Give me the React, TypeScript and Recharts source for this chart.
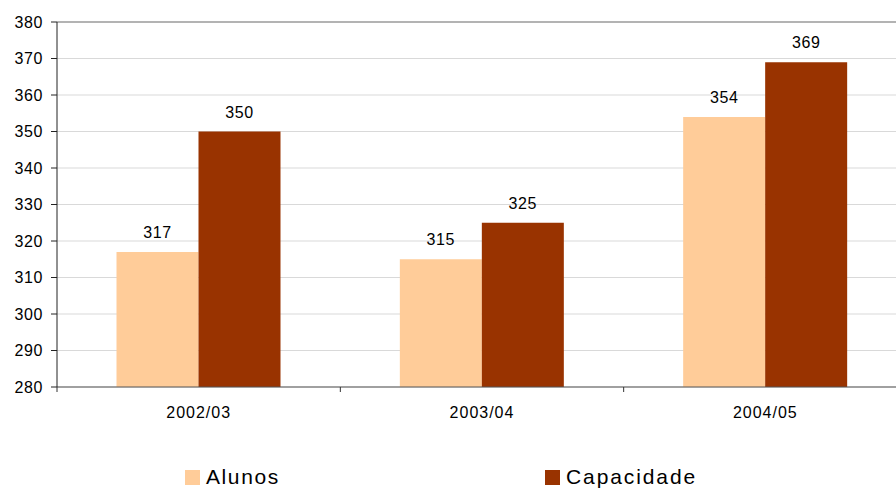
import React from 'react';
import { BarChart, Bar, XAxis, YAxis, CartesianGrid, LabelList, Legend, ReferenceLine } from 'recharts';

const categories = ['2002/03', '2003/04', '2004/05'];
const alunos = [317, 315, 354];
const capacidade = [350, 325, 369];
const yTicks = [280, 290, 300, 310, 320, 330, 340, 350, 360, 370, 380];

const data = categories.map((c, i) => ({ name: c, Alunos: alunos[i], Capacidade: capacidade[i] }));

const FONT = '"Liberation Sans", Arial, sans-serif';

const XTick = (props: any) => {
  const { x, y, payload, index } = props;
  const off = payload.offset || 0;
  return (
    <g>
      <line x1={x - off} x2={x - off} y1={y - 8} y2={y - 3} stroke="#333" />
      {index === categories.length - 1 && (
        <line x1={x + off} x2={x + off} y1={y - 8} y2={y - 3} stroke="#333" />
      )}
      <text x={x} y={y + 23} textAnchor="middle" fontSize={16} letterSpacing={1} fontFamily={FONT} fill="#000">
        {payload.value}
      </text>
    </g>
  );
};

const LegendContent = () => (
  <div style={{ position: 'relative', width: 896, height: 30, fontFamily: FONT }}>
    <div style={{ position: 'absolute', left: 185, top: 0, display: 'flex', alignItems: 'center', height: 26 }}>
      <span style={{ width: 15, height: 15, background: '#FFCC99', display: 'inline-block', marginRight: 6 }} />
      <span style={{ fontSize: 21, letterSpacing: 1.6, color: '#000', lineHeight: '26px' }}>Alunos</span>
    </div>
    <div style={{ position: 'absolute', left: 545, top: 0, display: 'flex', alignItems: 'center', height: 26 }}>
      <span style={{ width: 15, height: 15, background: '#993300', display: 'inline-block', marginRight: 6 }} />
      <span style={{ fontSize: 21, letterSpacing: 1.9, color: '#000', lineHeight: '26px' }}>Capacidade</span>
    </div>
  </div>
);

export default function App() {
  return (
    <div style={{ position: 'absolute', left: 0, top: 0, width: 896, height: 489, background: '#fff', overflow: 'hidden' }}>
      <BarChart
        width={896}
        height={489}
        data={data}
        margin={{ top: 22, right: -11, left: 0, bottom: 72 }}
        barCategoryGap="21%"
        barGap={0}
      >
        <CartesianGrid vertical={false} stroke="#d9d9d9" />
        <ReferenceLine y={380} stroke="#b3b3b3" strokeWidth={2} />
        <XAxis
          dataKey="name"
          height={30}
          axisLine={{ stroke: '#555' }}
          tickLine={false}
          tick={<XTick />}
          interval={0}
        />
        <YAxis
          domain={[280, 380]}
          ticks={yTicks}
          width={57}
          axisLine={{ stroke: '#222' }}
          tickLine={{ stroke: '#222' }}
          tickSize={6}
          tickMargin={8}
          tick={{ fontSize: 16, fontFamily: FONT, fill: '#000', letterSpacing: 0.6 }}
          allowDataOverflow
        />
        <Bar dataKey="Alunos" fill="#FFCC99" isAnimationActive={false}>
          <LabelList dataKey="Alunos" position="top" offset={14} fontSize={16} letterSpacing={0.6} fontFamily={FONT} fill="#000" />
        </Bar>
        <Bar dataKey="Capacidade" fill="#993300" isAnimationActive={false}>
          <LabelList dataKey="Capacidade" position="top" offset={14} fontSize={16} letterSpacing={0.6} fontFamily={FONT} fill="#000" />
        </Bar>
        <Legend
          layout="horizontal"
          verticalAlign="middle"
          align="center"
          content={<LegendContent />}
          wrapperStyle={{ top: 464, left: 0, width: 896, height: 30 }}
        />
      </BarChart>
    </div>
  );
}
